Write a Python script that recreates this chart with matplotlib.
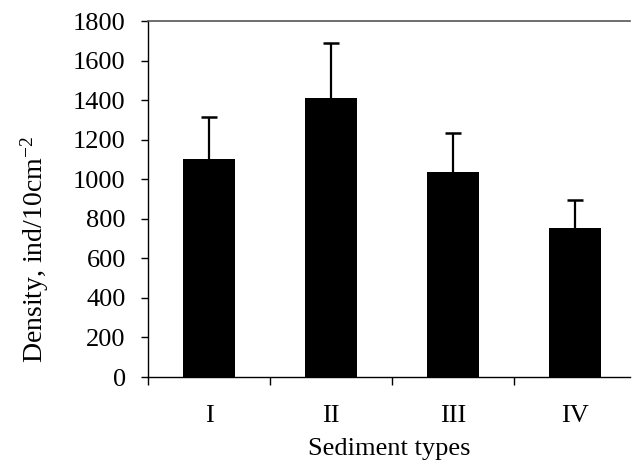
import matplotlib
matplotlib.use("Agg")
import matplotlib.pyplot as plt
import numpy as np

categories = ["I", "II", "III", "IV"]
density = [1100, 1410, 1037, 752]
errors = [213, 278, 197, 143]
yticks = [0, 200, 400, 600, 800, 1000, 1200, 1400, 1600, 1800]

plt.rcParams['font.family'] = ['Liberation Serif', 'DejaVu Serif']
plt.rcParams['mathtext.fontset'] = 'custom'
plt.rcParams['mathtext.rm'] = 'Liberation Serif'
plt.rcParams['mathtext.it'] = 'Liberation Serif:italic'
plt.rcParams['mathtext.bf'] = 'Liberation Serif:bold'

fig = plt.figure(figsize=(6.34, 4.63), dpi=100)
ax = fig.add_axes([0.2334, 0.1857, 0.7603, 0.7689])

x = np.arange(len(categories))
tops = np.array(density) + np.array(errors)
ax.bar(x, density, width=0.42, color='black', zorder=2)
ax.vlines(x, density, tops, colors='black', linewidth=1.6, zorder=3)
ax.plot(x, tops, linestyle='none', marker='_', markersize=11,
        markeredgewidth=1.8, color='black', zorder=3)

ax.set_xlim(-0.5, 3.45)
ax.set_ylim(0, 1800)
ax.set_yticks(yticks)
ax.set_yticklabels([str(v) for v in yticks])
ax.set_xticks(x)
ax.set_xticklabels(categories)
ax.set_xticks(np.arange(-0.5, 3.5, 1.0), minor=True)
ax.tick_params(axis='x', which='major', length=0, pad=20, labelsize=19)
ax.tick_params(axis='x', which='minor', length=6, width=1.0, direction='out')
ax.tick_params(axis='y', length=5, width=1.0, direction='out', pad=11, labelsize=19)

ax.spines['right'].set_visible(False)
ax.spines['top'].set_color('#555555')
ax.spines['top'].set_linewidth(1.2)
ax.spines['left'].set_linewidth(1.0)
ax.spines['bottom'].set_linewidth(1.0)

ax.set_xlabel("Sediment types", fontsize=19, labelpad=8)
fig.text(35 / 634, (463 - 250) / 463, "Density, ind/10cm$^{\\mathregular{-2}}$",
         rotation=90, fontsize=20, ha='center', va='center')

fig.savefig("out.png", dpi=100)
